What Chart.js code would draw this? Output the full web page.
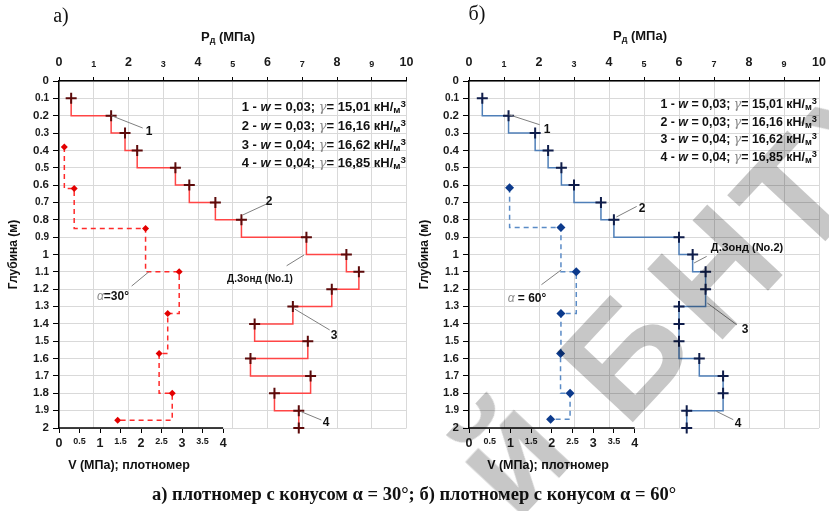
<!DOCTYPE html>
<html>
<head>
<meta charset="utf-8">
<script src="https://cdn.jsdelivr.net/npm/chart.js@4.4.1/dist/chart.umd.min.js"></script>
<style>
body { margin: 0; background: #fff; }
#page { position: relative; width: 829px; height: 511px; overflow: hidden; background: #fff;
        font-family: "Liberation Sans", Arial, sans-serif; }
.box { position: absolute; top: 0; height: 470px; }
.t { position: absolute; transform: translate(-50%, -50%); white-space: nowrap; font-weight: bold; color: #111; }
.leg { position: absolute; white-space: nowrap; font-weight: bold; color: #111; text-align: right; }
.leg i { font-weight: bold; }
.g { color: #8a8a8a; font-style: italic; font-family: "DejaVu Serif", serif; font-weight: normal; }
.leg sub { font-size: 0.75em; vertical-align: -2px; }
.leg sup { font-size: 0.75em; vertical-align: 4px; }
.ser { font-family: "Liberation Serif", "Times New Roman", serif; }
.wm { position: absolute; font-family: "Liberation Sans", Arial, sans-serif; font-weight: bold;
      font-size: 150px; color: rgba(0,0,0,0.22); transform: translate(-50%, -50%) rotate(-47deg); }
</style>
</head>
<body>
<div id="page">
  <div class="box" style="left:0;width:414px"><canvas id="chartA"></canvas></div>
  <div class="box" style="left:414px;width:415px"><canvas id="chartB"></canvas></div>
</div>
<script>
// шкалы
const pTicks = [0, 1, 2, 3, 4, 5, 6, 7, 8, 9, 10];
const vTicks = [0, 0.5, 1, 1.5, 2, 2.5, 3, 3.5, 4];
const depthTicks = [0, 0.1, 0.2, 0.3, 0.4, 0.5, 0.6, 0.7, 0.8, 0.9, 1, 1.1, 1.2, 1.3, 1.4, 1.5, 1.6, 1.7, 1.8, 1.9, 2];

// динамический зонд, глубины
const pDepths = [0.1, 0.2, 0.3, 0.4, 0.5, 0.6, 0.7, 0.8, 0.9, 1.0, 1.1, 1.2, 1.3, 1.4, 1.5, 1.6, 1.7, 1.8, 1.9, 2.0];
// а) конус 30
const pA = [0.35, 1.5, 1.9, 2.25, 3.35, 3.75, 4.5, 5.25, 7.12, 8.27, 8.63, 7.85, 6.73, 5.63, 7.16, 5.51, 7.24, 6.2, 6.9, 6.9];
const vDepthsA = [0.38, 0.62, 0.85, 1.10, 1.34, 1.57, 1.80, 1.955];
const vA = [0.13, 0.37, 2.11, 2.93, 2.65, 2.44, 2.76, 1.43];
// б) конус 60
const pB = [0.38, 1.13, 1.89, 2.26, 2.64, 3.0, 3.77, 4.14, 6.0, 6.39, 6.76, 6.76, 6.0, 6.0, 6.0, 6.58, 7.26, 7.26, 6.22, 6.22];
const vDepthsB = [0.615, 0.845, 1.10, 1.34, 1.57, 1.80, 1.95];
const vB = [0.98, 2.22, 2.59, 2.22, 2.21, 2.44, 1.97];

// выноски [P1, h1, P2, h2]
const leadersA = [[1.51, 0.2, 2.41, 0.271], [5.29, 0.772, 5.97, 0.709], [7.05, 1.003, 6.55, 1.065],
                  [6.78, 1.314, 7.79, 1.435], [6.97, 1.906, 7.55, 1.954], [2.09, 1.182, 2.59, 1.099]];
const leadersB = [[1.135, 0.194, 2.02, 0.252], [4.21, 0.784, 4.79, 0.723], [6.43, 1.049, 6.79, 1.011],
                  [6.81, 1.28, 7.65, 1.405], [7.07, 1.904, 7.55, 1.952], [2.07, 1.174, 2.64, 1.088]];

Chart.defaults.font.family = '"Liberation Sans", Arial, sans-serif';
Chart.defaults.color = '#1a1a1a';

const extras = {
    id: 'extras',
    afterDraw(chart, args, opts) {
        const ctx = chart.ctx;
        const sx = chart.scales.x, sy = chart.scales.y, sv = chart.scales.x2;
        ctx.save();
        ctx.strokeStyle = '#000';
        ctx.lineWidth = 1.5;
        ctx.beginPath();
        ctx.moveTo(sv.getPixelForValue(vTicks[0]), chart.chartArea.bottom);
        ctx.lineTo(sv.getPixelForValue(vTicks[vTicks.length - 1]), chart.chartArea.bottom);
        ctx.stroke();
        ctx.strokeStyle = '#7f7f7f';
        ctx.lineWidth = 1;
        opts.leaders.forEach(l => {
            ctx.beginPath();
            ctx.moveTo(sx.getPixelForValue(l[0]), sy.getPixelForValue(l[1]));
            ctx.lineTo(sx.getPixelForValue(l[2]), sy.getPixelForValue(l[3]));
            ctx.stroke();
        });
        ctx.restore();
    }
};

function noPad(s) {
    s.paddingLeft = 0; s.paddingRight = 0; s.paddingTop = 0; s.paddingBottom = 0;
}

function makeChart(id, p, vDepths, v, cfg) {
    const ctx = document.getElementById(id).getContext('2d');
    return new Chart(ctx, {
        type: 'scatter',
        data: {
            datasets: [{
                data: pDepths.map((d, i) => ({x: p[i], y: d})),
                showLine: true,
                stepped: 'after',
                borderColor: cfg.pLine,
                borderWidth: 1.5,
                pointStyle: 'cross',
                pointRadius: 5.5,
                pointBorderWidth: 2,
                pointBorderColor: cfg.pMark,
                clip: false
            }, {
                data: vDepths.map((d, i) => ({x: v[i], y: d})),
                xAxisID: 'x2',
                showLine: true,
                stepped: 'after',
                borderColor: cfg.vLine,
                borderWidth: 1.5,
                borderDash: [5, 4],
                pointStyle: 'rectRot',
                pointRadius: cfg.vRadius,
                pointBorderWidth: 0,
                pointBackgroundColor: cfg.vMark,
                clip: false
            }]
        },
        options: {
            responsive: true,
            maintainAspectRatio: false,
            animation: false,
            events: [],
            layout: {padding: {left: 0, right: cfg.padRight, top: 0, bottom: 0}},
            plugins: {
                legend: {display: false},
                tooltip: {enabled: false},
                extras: {leaders: cfg.leaders}
            },
            scales: {
                x: {
                    type: 'linear',
                    position: 'top',
                    min: 0,
                    max: 10,
                    afterBuildTicks: s => { s.ticks = pTicks.map(t => ({value: t})); },
                    afterFit: s => { s.height = 81; noPad(s); },
                    grid: {color: '#d9d9d9', tickColor: '#000', tickLength: 4},
                    border: {color: '#000', width: 1.5},
                    ticks: {
                        padding: 7,
                        callback: val => String(val),
                        font: c => ({size: c.tick && c.tick.value % 2 === 0 ? 12.5 : 9, weight: 'bold'})
                    }
                },
                x2: {
                    type: 'linear',
                    position: 'bottom',
                    min: 0,
                    max: cfg.vMax,
                    afterBuildTicks: s => { s.ticks = vTicks.map(t => ({value: t})); },
                    afterFit: s => { s.height = 42; noPad(s); },
                    grid: {drawOnChartArea: false, tickColor: '#000', tickLength: 5},
                    border: {display: false},
                    ticks: {
                        padding: 3,
                        callback: val => String(val),
                        font: c => ({size: c.tick && Number.isInteger(c.tick.value) ? 12.5 : 9, weight: 'bold'})
                    }
                },
                y: {
                    type: 'linear',
                    reverse: true,
                    min: 0,
                    max: 2,
                    afterBuildTicks: s => { s.ticks = depthTicks.map(t => ({value: t})); },
                    afterFit: s => { s.width = cfg.yWidth; noPad(s); },
                    grid: {color: '#d9d9d9', tickColor: '#000', tickLength: 6},
                    border: {color: '#000', width: 1.5},
                    title: {display: true, text: 'Глубина (м)', color: '#111',
                            font: {size: 12, weight: 'bold'}, padding: {top: cfg.titlePad, bottom: 0}},
                    ticks: {
                        padding: 4,
                        callback: val => String(val),
                        font: c => ({size: c.index % 2 === 0 ? 11.5 : 10, weight: 'bold'})
                    }
                }
            }
        },
        plugins: [extras]
    });
}

makeChart('chartA', pA, vDepthsA, vA, {
    pLine: '#ff4545', pMark: '#5c0a0a', vLine: '#ff2a2a', vMark: '#e30000', vRadius: 3.5,
    padRight: 7, yWidth: 59, vMax: 8.47, titlePad: 6, leaders: leadersA
});
makeChart('chartB', pB, vDepthsB, vB, {
    pLine: '#4f7fb8', pMark: '#0f1d4a', vLine: '#5a8bc6', vMark: '#0c3a8c', vRadius: 4.5,
    padRight: 10, yWidth: 55, vMax: 8.45, titlePad: 3, leaders: leadersB
});

// подписи
const page = document.getElementById('page');
function addText(x, y, html, size, extra) {
    const d = document.createElement('div');
    d.className = 't' + (extra ? ' ' + extra : '');
    d.style.left = x + 'px';
    d.style.top = y + 'px';
    d.style.fontSize = size + 'px';
    d.innerHTML = html;
    page.appendChild(d);
    return d;
}
function addLegend(right, top, step, size) {
    const rows = [['1', '0,03', '15,01'], ['2', '0,03', '16,16'], ['3', '0,04', '16,62'], ['4', '0,04', '16,85']];
    rows.forEach((r, i) => {
        const d = document.createElement('div');
        d.className = 'leg';
        d.style.right = (829 - right) + 'px';
        d.style.top = (top + i * step) + 'px';
        d.style.fontSize = size + 'px';
        d.innerHTML = `${r[0]} - <i>w</i> = ${r[1]}; <span class="g">γ</span>= ${r[2]} кН/<sub>м</sub><sup>3</sup>`;
        page.appendChild(d);
    });
}

addText(61, 15, 'а)', 20, 'ser').style.fontWeight = 'normal';
addText(477, 13, 'б)', 20, 'ser').style.fontWeight = 'normal';
addText(228, 37, 'P<sub style="font-size:9px;vertical-align:-2px">д</sub> (МПа)', 13);
addText(640, 36, 'P<sub style="font-size:9px;vertical-align:-2px">д</sub> (МПа)', 13);
addText(129, 465, 'V (МПа); плотномер', 12.5);
addText(548, 465, 'V (МПа); плотномер', 12.5);
addLegend(406, 98, 18.8, 13);
addLegend(817, 96, 17.6, 12.4);

addText(149, 131, '1', 12);
addText(269, 201, '2', 12);
addText(260, 278, 'Д.Зонд (No.1)', 10);
addText(334, 335, '3', 12);
addText(326, 422, '4', 12);
addText(113, 296, '<span class="g" style="font-family:Liberation Sans">α</span>=30°', 12);

addText(547, 129, '1', 12);
addText(642, 208, '2', 12);
addText(747, 247, 'Д.Зонд (No.2)', 11);
addText(745, 329, '3', 12);
addText(738, 423, '4', 12);
addText(527, 298, '<span class="g" style="font-family:Liberation Sans">α</span> = 60°', 12);

addText(414, 494, 'а) плотномер с конусом α = 30°; б) плотномер с конусом α = 60°', 18.5, 'ser');

// водяной знак
[['й', 510, 455], ['Б', 625, 355], ['Н', 715, 272], ['Т', 795, 198], ['У', 870, 125]].forEach(w => {
    const d = document.createElement('div');
    d.className = 'wm';
    d.style.left = w[1] + 'px';
    d.style.top = w[2] + 'px';
    d.textContent = w[0];
    page.appendChild(d);
});
</script>
</body>
</html>
